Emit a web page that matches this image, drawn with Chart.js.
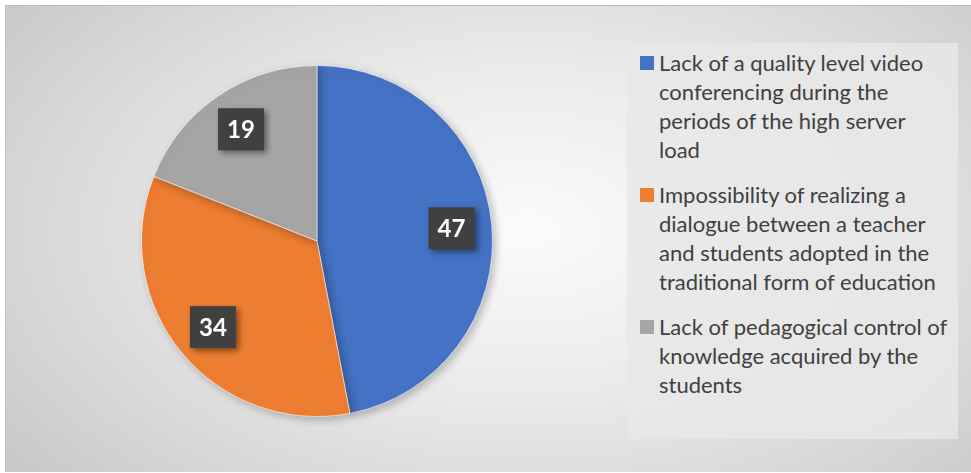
<!DOCTYPE html>
<html>
<head>
<meta charset="utf-8">
<script src="https://cdn.jsdelivr.net/npm/chart.js@4.4.1/dist/chart.umd.min.js"></script>
<style>
  html, body { margin: 0; padding: 0; background: #fff; }
  #frame {
    position: absolute; left: 5px; top: 5px; width: 966px; height: 466px;
    background: radial-gradient(ellipse 70% 85% at 54% 48%, #fbfbfb 0%, #ebebeb 40%, #d6d6d6 75%, #c6c6c6 100%);
    border-top: 1px solid #bdbdbd; border-left: 1px solid #c4c4c4;
  }
  #pieWrap { position: absolute; left: 125px; top: 49px; width: 372px; height: 372px; }
  #legend {
    position: absolute; left: 621px; top: 37px; width: 331px; height: 396px;
    background: rgba(232, 232, 232, 0.85);
    font-family: Lato, "Open Sans", sans-serif; font-size: 22px; color: #404040;
  }
  .item { position: absolute; left: 32px; width: 290px; line-height: 29px; }
  .sw { position: absolute; left: -19px; top: 8px; width: 14px; height: 14px; }
</style>
</head>
<body>
<div id="frame">
  <div id="pieWrap"><canvas id="pie"></canvas></div>
  <div id="legend"></div>
</div>
<script>
// categories and values
const categories = [
  "Lack of a quality level video conferencing during the periods of the high server load",
  "Impossibility of realizing a dialogue between a teacher and students adopted in the traditional form of education",
  "Lack of pedagogical control of knowledge acquired by the students"
];
const values = [47, 34, 19];
const colors = ["#4472C4", "#ED7D31", "#A5A5A5"];

// legend (html, wraps like the original)
const legend = document.getElementById("legend");
const itemTops = [5, 137, 269];
categories.forEach((c, i) => {
  const d = document.createElement("div");
  d.className = "item";
  d.style.top = itemTops[i] + "px";
  d.innerHTML = '<span class="sw" style="background:' + colors[i] + '"></span>' + c;
  legend.appendChild(d);
});

// shadow under the pie
const shadowPlugin = {
  id: "pieShadow",
  beforeDatasetsDraw(chart) {
    const ctx = chart.ctx;
    ctx.save();
    ctx.shadowColor = "rgba(0,0,0,0.25)";
    ctx.shadowBlur = 8;
    ctx.shadowOffsetX = 3;
    ctx.shadowOffsetY = 3;
  },
  afterDatasetsDraw(chart) {
    chart.ctx.restore();
  }
};

// dark boxed value labels
const boxLabels = {
  id: "boxLabels",
  afterDraw(chart) {
    const ctx = chart.ctx;
    const meta = chart.getDatasetMeta(0);
    meta.data.forEach((arc, i) => {
      const p = arc.getProps(["x", "y", "startAngle", "endAngle", "outerRadius"], true);
      const mid = (p.startAngle + p.endAngle) / 2;
      const r = p.outerRadius * 0.77;
      const x = p.x + Math.cos(mid) * r;
      const y = p.y + Math.sin(mid) * r;
      const w = 46, h = 42;
      ctx.save();
      ctx.shadowColor = "rgba(0,0,0,0.45)";
      ctx.shadowBlur = 6;
      ctx.shadowOffsetX = 3;
      ctx.shadowOffsetY = 3;
      ctx.fillStyle = "#404040";
      ctx.fillRect(x - w / 2, y - h / 2, w, h);
      ctx.restore();
      ctx.save();
      ctx.fillStyle = "#ffffff";
      ctx.font = "bold 24px Lato, 'Open Sans', sans-serif";
      ctx.textAlign = "center";
      ctx.textBaseline = "middle";
      ctx.fillText(String(values[i]), x, y + 1);
      ctx.restore();
    });
  }
};

new Chart(document.getElementById("pie"), {
  type: "pie",
  data: {
    labels: categories,
    datasets: [{
      data: values,
      backgroundColor: colors,
      borderColor: "rgba(255,255,255,0.6)",
      borderWidth: 1
    }]
  },
  options: {
    responsive: true,
    maintainAspectRatio: false,
    animation: false,
    layout: { padding: 10 },
    plugins: {
      legend: { display: false },
      tooltip: { enabled: false }
    }
  },
  plugins: [shadowPlugin, boxLabels]
});
</script>
</body>
</html>
